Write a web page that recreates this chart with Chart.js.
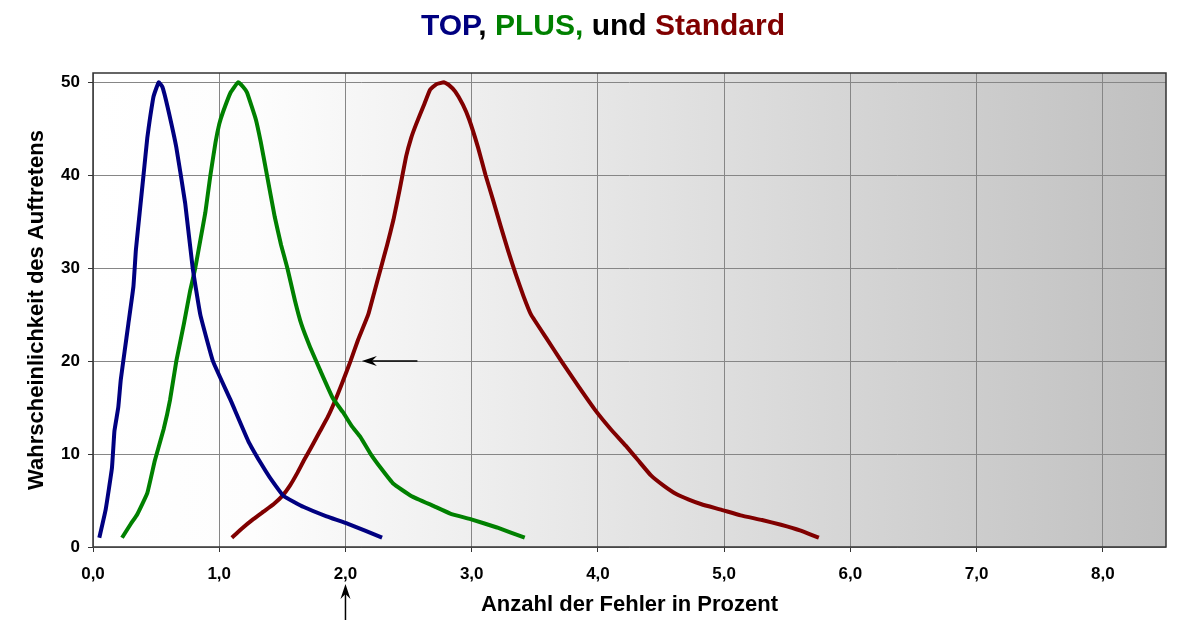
<!DOCTYPE html>
<html lang="de">
<head>
  <meta charset="UTF-8">
  <title>TOP, PLUS, und Standard</title>
  <style>
    body {
      margin: 0;
      background: #fff;
      font-family: "Liberation Sans", Arial, sans-serif;
    }
    .wrap {
      position: relative;
      width: 1192px;
      height: 620px;
    }
    .title {
      position: absolute;
      top: 10px;
      left: 14px;
      width: 1178px;
      text-align: center;
      font-size: 30px;
      line-height: 30px;
      font-weight: bold;
      color: #000;
    }
    .top { color: #000080; }
    .plus { color: #008000; }
    .std { color: #800000; }
  </style>
</head>
<body>
  <div class="wrap">
    <canvas id="chart" width="1192" height="620"></canvas>
    <div class="title"><span class="top">TOP</span>, <span class="plus">PLUS,</span> und <span class="std">Standard</span></div>
  </div>

  <script src="https://cdn.jsdelivr.net/npm/chart.js"></script>
  <script>
    // Fehler in Prozent (x) / Wahrscheinlichkeit (y)
    const topX = [0.05, 0.10, 0.15, 0.17, 0.20, 0.22, 0.25, 0.28, 0.32, 0.34, 0.37, 0.40, 0.43, 0.45, 0.48, 0.52, 0.55,
                  0.59, 0.66, 0.73, 0.79, 0.85, 0.95, 1.09, 1.23, 1.33, 1.40, 1.51, 1.67, 1.85, 2.02, 2.29];
    const topY = [1, 4, 8.5, 12.5, 15, 18, 21, 24, 28, 32, 36, 40, 44, 46, 48.5, 50, 49.5,
                  47.4, 43, 37, 30, 25, 20, 15.8, 11.4, 9, 7.5, 5.5, 4.3, 3.3, 2.5, 1];

    const plusX = [0.23, 0.30, 0.35, 0.43, 0.49, 0.56, 0.61, 0.66, 0.72, 0.77, 0.81, 0.85, 0.89, 0.93, 0.97, 1.00, 1.03,
                   1.09, 1.15, 1.19, 1.22, 1.29, 1.33, 1.37, 1.44, 1.49, 1.54, 1.60, 1.65, 1.72, 1.80, 1.90, 1.98,
                   2.05, 2.12, 2.20, 2.28, 2.38, 2.52, 2.70, 2.83, 2.99, 3.20, 3.42];
    const plusY = [1, 2.5, 3.5, 5.8, 9.3, 12.7, 15.8, 20, 24, 27.6, 30, 33, 36, 40, 43.5, 45.5, 46.8,
                   48.9, 50, 49.5, 48.9, 46, 43.5, 40.6, 35.5, 32.5, 30, 26.5, 24, 21.5, 19, 16, 14.5,
                   13, 11.8, 10, 8.5, 6.8, 5.5, 4.4, 3.6, 3, 2.1, 1];

    const stdX = [1.10, 1.18, 1.27, 1.35, 1.43, 1.50, 1.56, 1.62, 1.67, 1.74, 1.80, 1.86, 1.91, 1.97, 2.04, 2.10,
                  2.18, 2.23, 2.28, 2.33, 2.38, 2.43, 2.48, 2.52, 2.56, 2.62, 2.67, 2.72, 2.78, 2.82, 2.87, 2.93,
                  2.98, 3.05, 3.11, 3.17, 3.23, 3.29, 3.35, 3.41, 3.47, 3.59, 3.71, 3.85, 3.98, 4.10, 4.22, 4.32,
                  4.42, 4.52, 4.62, 4.72, 4.82, 4.98, 5.13, 5.30, 5.45, 5.60, 5.75];
    const stdY = [1, 2, 3, 3.8, 4.6, 5.5, 6.6, 8, 9.3, 11, 12.5, 14, 15.5, 17.5, 20, 22.3,
                  25, 27.5, 30, 32.5, 35.2, 38.5, 42, 44, 45.5, 47.5, 49.2, 49.8, 50, 49.7, 49, 47.6,
                  46, 43, 40, 37.3, 34.5, 31.8, 29.3, 27, 25, 22.5, 20, 17.2, 14.7, 12.7, 10.9, 9.3,
                  7.7, 6.6, 5.7, 5.1, 4.6, 4, 3.4, 2.9, 2.4, 1.8, 1];

    const xTicks = [0, 1, 2, 3, 4, 5, 6, 7, 8];
    const yTicks = [0, 10, 20, 30, 40, 50];

    const toPoints = (xs, ys) => xs.map((x, i) => ({x: x, y: ys[i]}));

    // Hintergrund mit Verlauf + Rahmen
    const plotBg = {
      id: 'plotBg',
      beforeDraw(chart) {
        const {ctx, chartArea: a} = chart;
        const g = ctx.createLinearGradient(a.left, 0, a.right, 0);
        g.addColorStop(0, '#ffffff');
        g.addColorStop(0.15, '#fdfdfd');
        g.addColorStop(1, '#c0c0c0');
        ctx.save();
        ctx.fillStyle = g;
        ctx.fillRect(a.left, a.top, a.right - a.left, a.bottom - a.top);
        ctx.restore();
      },
      afterDraw(chart) {
        const {ctx, chartArea: a} = chart;
        ctx.save();
        ctx.strokeStyle = '#333';
        ctx.lineWidth = 1.5;
        ctx.strokeRect(a.left, a.top, a.right - a.left, a.bottom - a.top);
        ctx.restore();
      }
    };

    function arrow(ctx, x1, y1, x2, y2) {
      const ang = Math.atan2(y2 - y1, x2 - x1);
      const len = 15, w = 5;
      ctx.beginPath();
      ctx.moveTo(x1, y1);
      ctx.lineTo(x2 - Math.cos(ang) * 8, y2 - Math.sin(ang) * 8);
      ctx.stroke();
      ctx.beginPath();
      ctx.moveTo(x2, y2);
      ctx.lineTo(x2 - Math.cos(ang) * len - Math.sin(ang) * w, y2 - Math.sin(ang) * len + Math.cos(ang) * w);
      ctx.lineTo(x2 - Math.cos(ang) * 10, y2 - Math.sin(ang) * 10);
      ctx.lineTo(x2 - Math.cos(ang) * len + Math.sin(ang) * w, y2 - Math.sin(ang) * len - Math.cos(ang) * w);
      ctx.closePath();
      ctx.fill();
    }

    // Pfeile bei 2,0 % und 20
    const arrows = {
      id: 'arrows',
      afterDraw(chart) {
        const {ctx, scales: {x, y}, chartArea: a} = chart;
        ctx.save();
        ctx.strokeStyle = '#000';
        ctx.fillStyle = '#000';
        ctx.lineWidth = 1.5;
        const px = x.getPixelForValue(2.0);
        arrow(ctx, px, chart.height, px, a.bottom + 37);
        const py = y.getPixelForValue(20);
        arrow(ctx, x.getPixelForValue(2.57), py, x.getPixelForValue(2.13), py);
        ctx.restore();
      }
    };

    const line = (data, color) => ({
      data: data,
      borderColor: color,
      borderWidth: 4,
      pointRadius: 0,
      tension: 0.1,
      fill: false
    });

    new Chart(document.getElementById('chart'), {
      type: 'line',
      data: {
        datasets: [
          line(toPoints(topX, topY), '#000080'),
          line(toPoints(plusX, plusY), '#008000'),
          line(toPoints(stdX, stdY), '#800000')
        ]
      },
      options: {
        responsive: false,
        animation: false,
        layout: { padding: { top: 73, right: 26, left: 0, bottom: 0 } },
        plugins: {
          legend: { display: false },
          title: { display: false },
          tooltip: { enabled: false }
        },
        scales: {
          x: {
            type: 'linear',
            min: 0,
            max: 8.5,
            afterFit: s => { s.height = 73; },
            afterBuildTicks: s => { s.ticks = xTicks.map(v => ({value: v})); },
            grid: { color: '#868686', lineWidth: 1, tickLength: 5, tickColor: '#333' },
            border: { display: false },
            ticks: {
              color: '#000',
              padding: 12,
              maxRotation: 0,
              font: { family: '"Liberation Sans", Arial, sans-serif', size: 17, weight: 'bold' },
              callback: v => v.toFixed(1).replace('.', ',')
            },
            title: {
              display: true,
              text: 'Anzahl der Fehler in Prozent',
              color: '#000',
              padding: { top: 0, bottom: 2 },
              font: { family: '"Liberation Sans", Arial, sans-serif', size: 22, weight: 'bold', lineHeight: 1.2 }
            }
          },
          y: {
            min: 0,
            max: 51,
            afterFit: s => { s.width = 93; },
            afterBuildTicks: s => { s.ticks = yTicks.map(v => ({value: v})); },
            grid: { color: '#868686', lineWidth: 1, tickLength: 5, tickColor: '#333' },
            border: { display: false },
            ticks: {
              color: '#000',
              padding: 8,
              font: { family: '"Liberation Sans", Arial, sans-serif', size: 17, weight: 'bold' }
            },
            title: {
              display: true,
              text: 'Wahrscheinlichkeit des Auftretens',
              color: '#000',
              padding: { top: 24, bottom: 0 },
              font: { family: '"Liberation Sans", Arial, sans-serif', size: 22, weight: 'bold', lineHeight: 1.2 }
            }
          }
        }
      },
      plugins: [plotBg, arrows]
    });
  </script>
</body>
</html>
